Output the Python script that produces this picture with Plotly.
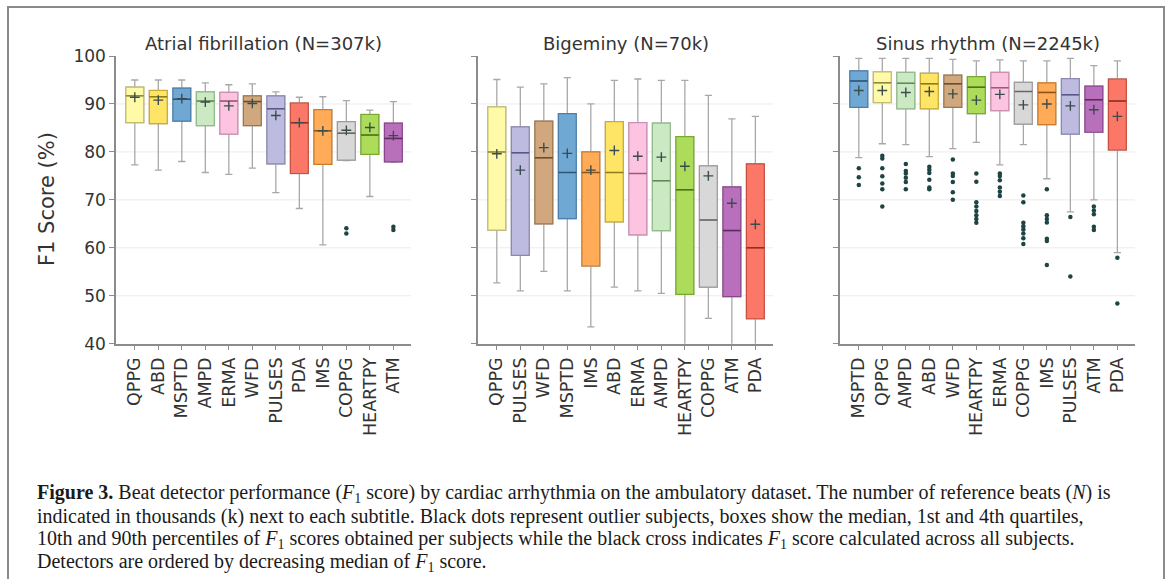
import plotly.graph_objects as go

W, H = 1171, 579

# ---------------- data ----------------
PANEL_TITLES = ["Atrial fibrillation (N=307k)", "Bigeminy (N=70k)", "Sinus rhythm (N=2245k)"]

AF_DET = ["QPPG", "ABD", "MSPTD", "AMPD", "ERMA", "WFD", "PULSES", "PDA", "IMS", "COPPG", "HEARTPY", "ATM"]
AF_P10 = [77.3, 76.2, 78.0, 75.7, 75.3, 76.6, 71.5, 68.2, 60.6, 78.2, 70.7, 77.8]
AF_Q1 = [86.1, 85.9, 86.4, 85.5, 83.7, 85.5, 77.5, 75.5, 77.4, 78.3, 79.5, 77.9]
AF_MED = [91.7, 91.5, 91.0, 90.6, 90.6, 90.5, 89.0, 86.1, 84.4, 83.9, 83.5, 82.8]
AF_Q3 = [93.5, 92.8, 93.3, 92.5, 92.4, 91.7, 91.7, 90.2, 88.8, 86.3, 87.8, 86.0]
AF_P90 = [95.0, 95.0, 95.0, 94.4, 94.0, 94.2, 92.5, 91.4, 91.5, 90.7, 88.7, 90.5]
AF_ALL = [91.4, 90.8, 91.1, 90.4, 89.6, 90.1, 87.6, 86.1, 84.4, 84.5, 85.1, 83.4]
AF_OUT = {"COPPG": [64.1, 63.0], "ATM": [64.4, 63.7]}

BI_DET = ["QPPG", "PULSES", "WFD", "MSPTD", "IMS", "ABD", "ERMA", "AMPD", "HEARTPY", "COPPG", "ATM", "PDA"]
BI_P10 = [52.7, 51.0, 55.1, 51.0, 43.5, 51.8, 51.0, 50.5, 38.0, 45.3, 39.5, 38.0]
BI_Q1 = [63.7, 58.4, 65.0, 66.1, 56.2, 65.4, 62.7, 63.6, 50.3, 51.8, 49.8, 45.2]
BI_MED = [80.0, 79.8, 78.8, 75.7, 75.7, 75.7, 75.5, 74.0, 72.1, 65.8, 63.6, 60.0]
BI_Q3 = [89.4, 85.2, 86.4, 88.0, 80.0, 86.3, 86.1, 86.0, 83.2, 77.1, 72.7, 77.5]
BI_P90 = [95.1, 93.5, 94.2, 95.5, 90.0, 94.9, 95.2, 94.9, 94.9, 91.8, 86.9, 87.4]
BI_ALL = [79.6, 76.2, 80.9, 79.7, 76.2, 80.3, 79.1, 78.9, 77.0, 75.0, 69.3, 64.9]
BI_OUT = {}

SR_DET = ["MSPTD", "QPPG", "AMPD", "ABD", "WFD", "HEARTPY", "ERMA", "COPPG", "IMS", "PULSES", "ATM", "PDA"]
SR_P10 = [78.8, 81.7, 81.5, 79.0, 80.7, 82.0, 77.3, 81.5, 74.4, 67.5, 70.0, 59.0]
SR_Q1 = [89.3, 90.3, 89.0, 89.0, 89.3, 88.0, 88.6, 85.8, 85.7, 83.7, 84.1, 80.4]
SR_MED = [94.8, 94.4, 94.3, 94.2, 94.2, 93.5, 93.4, 92.6, 92.4, 91.9, 90.9, 90.6]
SR_Q3 = [96.9, 96.7, 96.6, 96.4, 96.0, 95.7, 96.6, 94.5, 94.4, 95.3, 93.7, 95.2]
SR_P90 = [99.5, 99.5, 99.5, 99.5, 99.3, 99.0, 99.2, 99.0, 99.0, 99.5, 98.0, 99.0]
SR_ALL = [92.8, 92.8, 92.4, 92.6, 92.1, 90.8, 92.0, 89.8, 90.0, 89.6, 88.8, 87.4]
SR_OUT = {
    "MSPTD": [76.6, 74.7, 73.1],
    "QPPG": [79.2, 78.6, 76.6, 74.9, 73.4, 72.2, 68.6],
    "AMPD": [77.5, 76.0, 75.5, 74.6, 73.7, 72.2],
    "ABD": [76.9, 76.3, 75.6, 74.2, 72.6, 72.2],
    "WFD": [78.4, 75.5, 75.0, 73.7, 71.6, 70.0],
    "HEARTPY": [75.5, 73.8, 69.5, 68.6, 67.7, 66.8, 66.0, 65.2],
    "ERMA": [75.5, 75.0, 74.1, 72.6, 71.7, 70.8],
    "COPPG": [70.9, 69.5, 65.2, 64.5, 63.8, 63.0, 62.0, 60.8],
    "IMS": [72.2, 66.8, 66.0, 65.3, 61.9, 61.4, 56.4],
    "PULSES": [66.4, 54.0],
    "ATM": [68.6, 67.8, 67.0, 64.4, 63.7],
    "PDA": [57.9, 48.4],
}

Y_TICKS = [40, 50, 60, 70, 80, 90, 100]
GRID_VALUES = [50, 60, 70, 80, 90]

# ---------------- style ----------------
# fill, edge, median colours per detector
COLORS = {
    "QPPG": ("#fffaa8", "#c4bd6e", "#8f8a3c"),
    "ABD": ("#ffe566", "#c9ac35", "#8f7a1c"),
    "MSPTD": ("#70a8d4", "#4a7fab", "#2e5577"),
    "AMPD": ("#cbe9c2", "#94bb8b", "#5f8a57"),
    "ERMA": ("#fdc4e2", "#cf8fb0", "#9a5a7c"),
    "WFD": ("#d1a87e", "#9c7650", "#6a4c2e"),
    "PULSES": ("#bdbbe0", "#8a88b5", "#5a5888"),
    "PDA": ("#fb7868", "#c8503f", "#8e3024"),
    "IMS": ("#ffab57", "#cc7d2c", "#8f5314"),
    "COPPG": ("#d8d8d8", "#9c9c9c", "#666666"),
    "HEARTPY": ("#acdc5a", "#79a931", "#4c7418"),
    "ATM": ("#b970bc", "#8a468d", "#5e2a61"),
}

FONT = "DejaVu Sans"
AXIS_COLOR = "#8c8c8c"
TEXT_COLOR = "#333333"

def px_x(p):
    return p / W

def px_y(p):
    return 1 - p / H

panels = [
    (AF_DET, AF_P10, AF_Q1, AF_MED, AF_Q3, AF_P90, AF_ALL, AF_OUT),
    (BI_DET, BI_P10, BI_Q1, BI_MED, BI_Q3, BI_P90, BI_ALL, BI_OUT),
    (SR_DET, SR_P10, SR_Q1, SR_MED, SR_Q3, SR_P90, SR_ALL, SR_OUT),
]
x_domains_px = [(116, 411), (478, 773), (840, 1135)]
y_domain = [px_y(343.7), px_y(56)]

BOX_W = 0.76
fig = go.Figure()

for i, (det, p10, q1, med, q3, p90, allf1, outl) in enumerate(panels):
    xa = "x" if i == 0 else f"x{i+1}"
    ya = "y" if i == 0 else f"y{i+1}"
    # whiskers (gray) for all detectors
    fig.add_trace(go.Box(
        x=det, q1=q1, median=med, q3=q3, lowerfence=p10, upperfence=p90,
        width=BOX_W, whiskerwidth=0.4, boxpoints=False,
        fillcolor="rgba(0,0,0,0)", line=dict(color="#a8a8a8", width=1.3),
        xaxis=xa, yaxis=ya, showlegend=False, hoverinfo="skip"))
    for j, d in enumerate(det):
        fill, edge, mcol = COLORS[d]
        fig.add_trace(go.Box(
            x=[d], q1=[q1[j]], median=[med[j]], q3=[q3[j]],
            lowerfence=[q1[j]], upperfence=[q3[j]],
            width=BOX_W, whiskerwidth=0, boxpoints=False,
            fillcolor=fill, line=dict(color=edge, width=1.2),
            xaxis=xa, yaxis=ya, showlegend=False, name=d))
        fig.add_trace(go.Box(
            x=[d], q1=[med[j]], median=[med[j]], q3=[med[j]],
            lowerfence=[med[j]], upperfence=[med[j]],
            width=BOX_W, whiskerwidth=0, boxpoints=False,
            fillcolor="rgba(0,0,0,0)", line=dict(color=mcol, width=1.5),
            xaxis=xa, yaxis=ya, showlegend=False, hoverinfo="skip"))
    # outliers
    ox, oy = [], []
    for d, vals in outl.items():
        ox += [d] * len(vals)
        oy += vals
    if ox:
        fig.add_trace(go.Scatter(
            x=ox, y=oy, mode="markers", xaxis=xa, yaxis=ya, showlegend=False,
            marker=dict(symbol="circle", size=4.5, color="#1f4444")))
    # overall F1 (cross)
    fig.add_trace(go.Scatter(
        x=det, y=allf1, mode="markers", xaxis=xa, yaxis=ya, showlegend=False,
        marker=dict(symbol="cross-thin", size=7, color="#3a4c4c",
                    line=dict(color="#3a4c4c", width=1.4))))

layout_axes = {}
shapes = []
for i, (det, *_rest) in enumerate(panels):
    xk = "xaxis" if i == 0 else f"xaxis{i+1}"
    yk = "yaxis" if i == 0 else f"yaxis{i+1}"
    ya = "y" if i == 0 else f"y{i+1}"
    xa = "x" if i == 0 else f"x{i+1}"
    a, b = x_domains_px[i]
    layout_axes[xk] = dict(
        domain=[px_x(a), px_x(b)], anchor=ya, type="category",
        categoryorder="array", categoryarray=det, range=[-0.8, 11.75],
        showline=True, linecolor=AXIS_COLOR, linewidth=1.5, automargin=False,
        ticks="outside", ticklen=5, tickwidth=1.2, tickcolor=AXIS_COLOR,
        tickangle=-90, showgrid=False, zeroline=False,
        tickfont=dict(family=FONT, size=17.5, color=TEXT_COLOR))
    layout_axes[yk] = dict(
        domain=y_domain, anchor=xa, range=[40, 100], tickvals=Y_TICKS,
        showline=True, linecolor=AXIS_COLOR, linewidth=1.5, automargin=False,
        ticks="outside", ticklen=5, tickwidth=1.2, tickcolor=AXIS_COLOR,
        showgrid=False, zeroline=False,
        showticklabels=(i == 0),
        tickfont=dict(family=FONT, size=17, color=TEXT_COLOR))
    for v in GRID_VALUES:
        shapes.append(dict(
            type="line", xref=f"{xa} domain", yref=ya, x0=0, x1=1, y0=v, y1=v,
            line=dict(color="#ebebeb", width=1), layer="below"))

annotations = []
for i, t in enumerate(PANEL_TITLES):
    a, b = x_domains_px[i]
    annotations.append(dict(
        x=px_x((a + b) / 2), y=px_y(43), xref="paper", yref="paper",
        text=t, showarrow=False, xanchor="center", yanchor="middle",
        font=dict(family=FONT, size=18, color=TEXT_COLOR)))
annotations.append(dict(
    x=px_x(47), y=px_y(199), xref="paper", yref="paper", text="F1 Score (%)",
    textangle=-90, showarrow=False, xanchor="center", yanchor="middle",
    font=dict(family=FONT, size=21, color=TEXT_COLOR)))

F1 = "<i>F</i><sub>1</sub>"
CAPTION = [
    f"<b>Figure 3.</b> Beat detector performance ({F1} score) by cardiac arrhythmia on the ambulatory dataset. The number of reference beats (<i>N</i>) is",
    "indicated in thousands (k) next to each subtitle. Black dots represent outlier subjects, boxes show the median, 1st and 4th quartiles,",
    f"10th and 90th percentiles of {F1} scores obtained per subjects while the black cross indicates {F1} score calculated across all subjects.",
    f"Detectors are ordered by decreasing median of {F1} score.",
]
CAP_Y = [493, 516, 539, 562]
for line, yy in zip(CAPTION, CAP_Y):
    annotations.append(dict(
        x=px_x(35), y=px_y(yy), xref="paper", yref="paper", text=line,
        showarrow=False, xanchor="left", yanchor="middle", align="left",
        font=dict(family="Liberation Serif", size=20, color="#1a1a1a")))

shapes.append(dict(
    type="rect", xref="paper", yref="paper",
    x0=px_x(8), x1=px_x(1164), y0=-0.05, y1=px_y(7),
    line=dict(color="#8a8a8a", width=2), fillcolor="rgba(0,0,0,0)", layer="below"))

fig.update_layout(
    width=W, height=H, autosize=False,
    margin=dict(l=0, r=0, t=0, b=0, pad=0),
    paper_bgcolor="white", plot_bgcolor="white",
    boxmode="overlay", showlegend=False,
    annotations=annotations, shapes=shapes,
    **layout_axes)

fig.write_html("out.html")
